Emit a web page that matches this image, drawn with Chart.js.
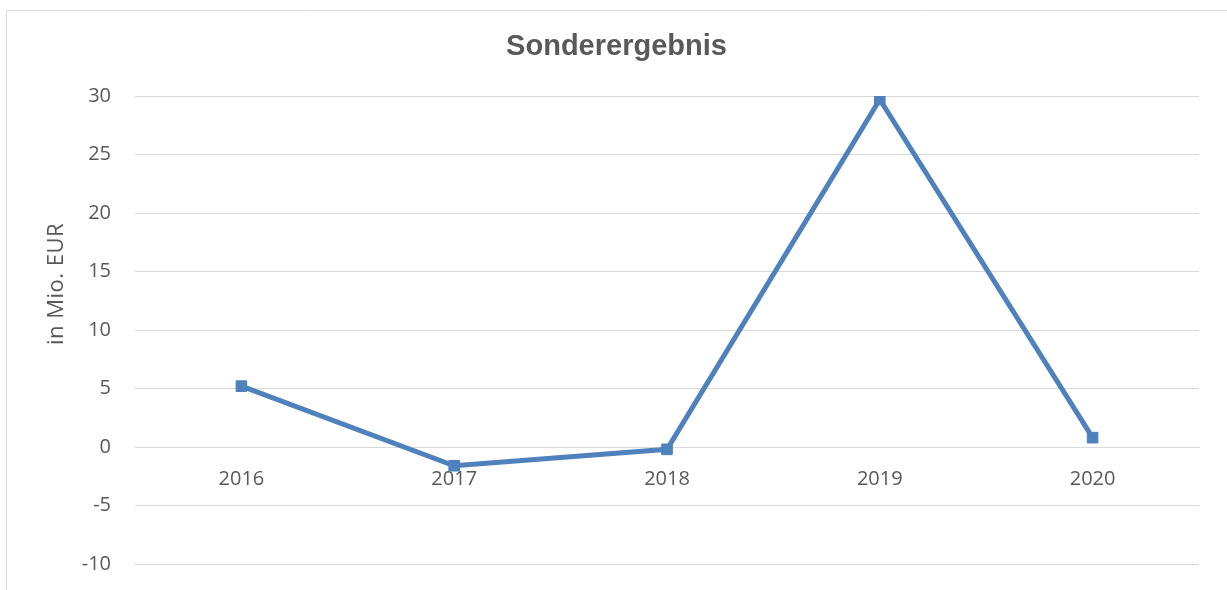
<!DOCTYPE html>
<html lang="de">
<head>
    <meta charset="utf-8">
    <title>Sonderergebnis</title>
    <script src="https://cdn.jsdelivr.net/npm/chart.js"></script>
    <style>
        html, body { margin: 0; padding: 0; background: #fff; }
        #wrap { width: 1227px; height: 590px; }
    </style>
</head>
<body>
    <div id="wrap"><canvas id="sonderChart" width="1227" height="590"></canvas></div>
    <script>
        // Daten
        const years = ['2016', '2017', '2018', '2019', '2020'];
        const sonderergebnis = [5.2, -1.6, -0.2, 29.7, 0.8];
        const yMin = -10, yMax = 30, yStep = 5;
        const chartTitle = 'Sonderergebnis';
        const yTitle = 'in Mio. EUR';

        const grey = '#595959';
        const gridGrey = '#d9d9d9';
        const blue = '#4f81bd';

        // Rahmen, Titel und Achsentitel wie im Excel-Diagramm
        const framePlugin = {
            id: 'frame',
            beforeDraw(chart) {
                const c = chart.ctx;
                c.save();
                c.strokeStyle = gridGrey;
                c.lineWidth = 1;
                c.beginPath();
                c.moveTo(6.5, chart.height);
                c.lineTo(6.5, 10.5);
                c.lineTo(chart.width, 10.5);
                c.stroke();
                c.restore();
            },
            afterDraw(chart) {
                const c = chart.ctx;
                c.save();
                c.fillStyle = grey;
                c.textAlign = 'center';
                c.textBaseline = 'middle';
                // Titel mittig über dem Rahmen (nicht über der Canvas)
                c.font = 'bold 29px "Liberation Sans", Arial, sans-serif';
                c.fillText(chartTitle, (6 + chart.width) / 2, 47);
                // y-Achsentitel
                c.translate(57, 284);
                c.rotate(-Math.PI / 2);
                c.font = '22px "Open Sans", sans-serif';
                c.letterSpacing = '0.5px';
                c.fillText(yTitle, 0, 0);
                c.restore();
            }
        };

        const ctx = document.getElementById('sonderChart').getContext('2d');
        const chart = new Chart(ctx, {
            type: 'line',
            data: {
                labels: years,
                datasets: [{
                    label: 'Sonderergebnis',
                    data: sonderergebnis,
                    borderColor: blue,
                    backgroundColor: blue,
                    borderWidth: 5,
                    tension: 0,
                    fill: false,
                    pointStyle: 'rect',
                    pointRadius: 7.5,
                    pointBorderWidth: 1,
                    pointBackgroundColor: blue,
                    pointBorderColor: blue
                }]
            },
            options: {
                responsive: false,
                animation: false,
                layout: {
                    padding: { left: 0, right: 28, top: 96, bottom: 26 }
                },
                plugins: {
                    legend: { display: false },
                    tooltip: { enabled: false },
                    title: { display: false }
                },
                scales: {
                    x: {
                        type: 'category',
                        position: { y: 0 },
                        offset: true,
                        grid: { display: false, drawTicks: false },
                        border: { display: true, color: gridGrey, width: 1 },
                        ticks: {
                            color: grey,
                            padding: 20,
                            maxRotation: 0,
                            font: { family: '"Open Sans", sans-serif', size: 20 }
                        }
                    },
                    y: {
                        min: yMin,
                        max: yMax,
                        afterFit(scale) {
                            scale.width = 135;
                            scale.paddingTop = 0;
                            scale.paddingBottom = 0;
                        },
                        grid: { color: gridGrey, lineWidth: 1, drawTicks: false },
                        border: { display: false },
                        ticks: {
                            stepSize: yStep,
                            color: grey,
                            padding: 24,
                            font: { family: '"Open Sans", sans-serif', size: 20 }
                        }
                    }
                }
            },
            plugins: [framePlugin]
        });
    </script>
</body>
</html>
